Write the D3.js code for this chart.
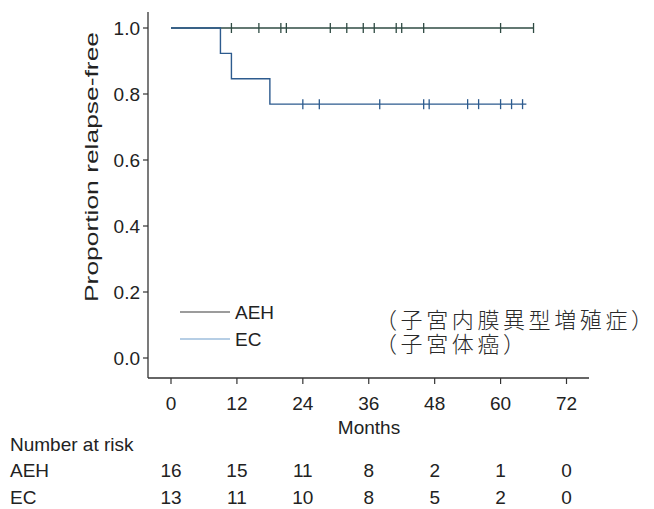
<!DOCTYPE html>
<html>
<head>
<meta charset="utf-8">
<script src="https://cdn.jsdelivr.net/npm/d3@7"></script>
<style>
  body { margin: 0; background: #fff; }
  text { font-family: "Liberation Sans", Arial, sans-serif; fill: #222; }
  .jp { font-family: "Noto Sans CJK JP", sans-serif; font-weight: 300; fill: #2a2a2a; }
</style>
</head>
<body>
<svg id="chart" width="654" height="509"></svg>
<script>
// months at which the curve drops (EC) and censored times
const aeh_events = [];
const aeh_censor = [11, 16, 20, 21, 29, 32, 35, 37, 41, 42, 46, 60, 66];
const aeh_n = 16;
const aeh_end = 66;

const ec_events = [9, 11, 18];
const ec_censor = [24, 27, 38, 46, 47, 54, 56, 60, 62, 64];
const ec_n = 13;
const ec_end = 64.7;

const x_ticks = [0, 12, 24, 36, 48, 60, 72];
const y_ticks = [0, 0.2, 0.4, 0.6, 0.8, 1.0];
const risk_aeh = [16, 15, 11, 8, 2, 1, 0];
const risk_ec = [13, 11, 10, 8, 5, 2, 0];

const aeh_color = '#2f4b43';
const ec_color = '#2d5b8e';

const svg = d3.select('#chart');

const x = d3.scaleLinear().domain([0, 72]).range([171, 566.5]);
const y = d3.scaleLinear().domain([0, 1]).range([358, 28]);

// kaplan-meier steps from events, every event drops one subject at risk
const km_steps = function(events, censor, n, end) {
  let all = events.map(t => ({t: t, e: 1})).concat(censor.map(t => ({t: t, e: 0})));
  all.sort((a, b) => a.t - b.t || b.e - a.e);
  let s = 1, at_risk = n;
  let pts = [[0, 1]];
  let marks = [];
  all.forEach(function(d) {
    if (d.e) {
      pts.push([d.t, s]);
      s = s * (at_risk - 1) / at_risk;
      pts.push([d.t, s]);
    } else {
      marks.push([d.t, s]);
    }
    at_risk--;
  });
  pts.push([end, s]);
  return {pts: pts, marks: marks};
};

const line = d3.line().x(d => x(d[0])).y(d => y(d[1]));

// axes
const g = svg.append('g');
g.append('line').attr('x1', 148).attr('x2', 148).attr('y1', 12).attr('y2', 378)
  .attr('stroke', '#333').attr('stroke-width', 1.3);
g.append('line').attr('x1', 148).attr('x2', 589).attr('y1', 378).attr('y2', 378)
  .attr('stroke', '#333').attr('stroke-width', 1.3);

y_ticks.forEach(function(v) {
  g.append('line').attr('x1', 143).attr('x2', 148).attr('y1', y(v)).attr('y2', y(v))
    .attr('stroke', '#333').attr('stroke-width', 1.2);
  g.append('text').attr('x', 140).attr('y', y(v) + 7).attr('text-anchor', 'end')
    .attr('font-size', 19).text(v.toFixed(1));
});
x_ticks.forEach(function(v) {
  g.append('line').attr('x1', x(v)).attr('x2', x(v)).attr('y1', 378).attr('y2', 384)
    .attr('stroke', '#333').attr('stroke-width', 1.2);
  g.append('text').attr('x', x(v)).attr('y', 410).attr('text-anchor', 'middle')
    .attr('font-size', 19).text(v);
});

g.append('text').attr('x', 369).attr('y', 434).attr('text-anchor', 'middle')
  .attr('font-size', 19).text('Months');
g.append('text')
  .attr('transform', 'translate(98,167) rotate(-90)')
  .attr('text-anchor', 'middle').attr('font-size', 17.5)
  .attr('textLength', 270).attr('lengthAdjust', 'spacingAndGlyphs')
  .text('Proportion relapse-free');

// curves
[[aeh_events, aeh_censor, aeh_n, aeh_end, aeh_color],
 [ec_events, ec_censor, ec_n, ec_end, ec_color]].forEach(function(s) {
  let km = km_steps(s[0], s[1], s[2], s[3]);
  g.append('path').attr('d', line(km.pts)).attr('fill', 'none')
    .attr('stroke', s[4]).attr('stroke-width', 1.4);
  km.marks.forEach(function(m) {
    g.append('line').attr('x1', x(m[0])).attr('x2', x(m[0]))
      .attr('y1', y(m[1]) - 5).attr('y2', y(m[1]) + 5)
      .attr('stroke', s[4]).attr('stroke-width', 1.3);
  });
});

// legend
g.append('line').attr('x1', 180).attr('x2', 230).attr('y1', 312).attr('y2', 312)
  .attr('stroke', '#3a3a3a').attr('stroke-width', 1.2);
g.append('text').attr('x', 235).attr('y', 319).attr('font-size', 19).text('AEH');
g.append('line').attr('x1', 180).attr('x2', 230).attr('y1', 339).attr('y2', 339)
  .attr('stroke', '#6f9dcb').attr('stroke-width', 1.2);
g.append('text').attr('x', 235).attr('y', 346).attr('font-size', 19).text('EC');

// japanese note, closing bracket without trailing spacing so it stays inside
const jp_note = function(yy, body) {
  let t = g.append('text').attr('class', 'jp').attr('x', 375).attr('y', yy)
    .attr('font-size', 22);
  t.append('tspan').attr('letter-spacing', 3.6).text('（' + body);
  t.append('tspan').text('）');
};
jp_note(328, '子宮内膜異型増殖症');
jp_note(352, '子宮体癌');

// number at risk
g.append('text').attr('x', 10).attr('y', 451).attr('font-size', 19).text('Number at risk');
g.append('text').attr('x', 10).attr('y', 477).attr('font-size', 19).text('AEH');
g.append('text').attr('x', 10).attr('y', 504).attr('font-size', 19).text('EC');
x_ticks.forEach(function(v, i) {
  g.append('text').attr('x', x(v)).attr('y', 477).attr('text-anchor', 'middle')
    .attr('font-size', 19).text(risk_aeh[i]);
  g.append('text').attr('x', x(v)).attr('y', 504).attr('text-anchor', 'middle')
    .attr('font-size', 19).text(risk_ec[i]);
});
</script>
</body>
</html>
